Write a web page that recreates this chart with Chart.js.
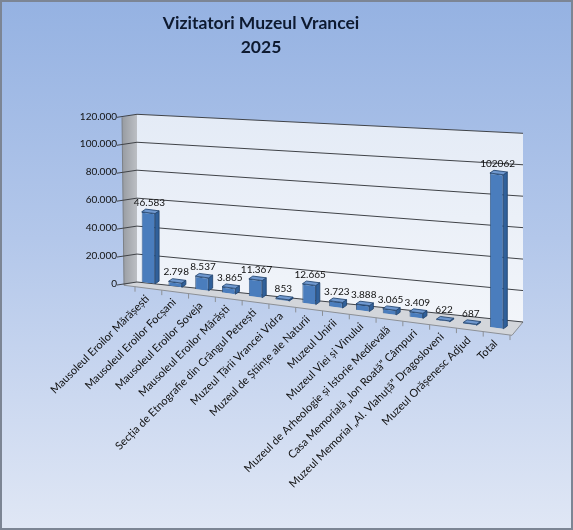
<!DOCTYPE html>
<html lang="ro">
<head>
<meta charset="utf-8">
<title>Vizitatori Muzeul Vrancei 2025</title>
<script src="https://cdn.jsdelivr.net/npm/chart.js@4/dist/chart.umd.min.js"></script>
<style>
  html, body { margin: 0; padding: 0; background: #fff; }
  canvas { display: block; }
</style>
</head>
<body>
<canvas id="visitors-chart" width="573" height="530"></canvas>
<script>
"use strict";

const museums = [
  "Mausoleul Eroilor Mărășești",
  "Mausoleul Eroilor Focșani",
  "Mausoleul Eroilor Soveja",
  "Mausoleul Eroilor Mărăști",
  "Secția de Etnografie din Crângul Petrești",
  "Muzeul Țării Vrancei Vidra",
  "Muzeul de Științe ale Naturii",
  "Muzeul Unirii",
  "Muzeul Viei și Vinului",
  "Muzeul de Arheologie și Istorie Medievală",
  "Casa Memorială „Ion Roată” Câmpuri",
  "Muzeul Memorial „Al. Vlahuță” Dragosloveni",
  "Muzeul Orășenesc Adjud",
  "Total",
];
const visitors = [46583, 2798, 8537, 3865, 11367, 853, 12665, 3723, 3888, 3065, 3409, 622, 687, 102062];
const yTicks = [0, 20000, 40000, 60000, 80000, 100000, 120000];

// dotted thousands, the total is printed plain
const fmt = (v) => String(v).replace(/\B(?=(\d{3})+(?!\d))/g, ".");
const barLabel = (v, i) => (museums[i] === "Total" ? String(v) : fmt(v));

// fake perspective: floor slopes down to the right, bars a bit taller in front
const SLOPE = 0.129;
const STRETCH = 1.08;
const DEPTH = { dx: 4, dy: 3 };

function floorMap(chart) {
  const bars = chart.getDatasetMeta(0).data;
  const base = chart.scales.y.getPixelForValue(0);
  const f = base * (1 - STRETCH) + 1 - SLOPE * bars[0].x;
  return {
    base,
    f,
    pt: (x, y) => [x, SLOPE * x + STRETCH * y + f],
  };
}

function poly(ctx, pts, fill, stroke) {
  ctx.beginPath();
  ctx.moveTo(pts[0][0], pts[0][1]);
  pts.slice(1).forEach((p) => ctx.lineTo(p[0], p[1]));
  ctx.closePath();
  if (fill) { ctx.fillStyle = fill; ctx.fill(); }
  if (stroke) { ctx.strokeStyle = stroke; ctx.stroke(); }
}

const scenery = {
  id: "scenery",
  beforeDraw(chart) {
    const { ctx, chartArea: area, width, height } = chart;
    const y = chart.scales.y;
    const x = chart.scales.x;
    const m = floorMap(chart);

    // page background
    const bg = ctx.createLinearGradient(0, 0, 0, height);
    bg.addColorStop(0, "#95b2e2");
    bg.addColorStop(0.45, "#b3c7ea");
    bg.addColorStop(1, "#e0e7f5");
    ctx.save();
    ctx.fillStyle = bg;
    ctx.fillRect(0, 0, width, height);
    ctx.lineWidth = 2;
    ctx.strokeStyle = "#7c8594";
    ctx.strokeRect(1, 1, width - 2, height - 2);

    const wl = area.left + 2;
    const wr = area.right + 13;
    const y0 = y.getPixelForValue(0);
    const yTop = y.getPixelForValue(y.max);
    const rightY = (py) => py + 40 - 21 * (y0 - py) / (y0 - yTop);
    const frontLeft = m.pt(area.left - 11, m.base + 5);
    const frontRight = m.pt(area.right + 2, m.base + 5);

    // back wall
    const wall = ctx.createLinearGradient(0, yTop, 0, rightY(y0));
    wall.addColorStop(0, "#e4ebf6");
    wall.addColorStop(1, "#f2f5fa");
    poly(ctx, [[wl, yTop], [wr, rightY(yTop)], [wr, rightY(y0)], [wl, y0]], wall);

    // side wall
    const side = ctx.createLinearGradient(wl - 15, 0, wl, 0);
    side.addColorStop(0, "#979ba1");
    side.addColorStop(1, "#bcbfc4");
    poly(ctx, [[wl - 15, yTop + 3], [wl, yTop], [wl, y0], frontLeft], side);

    // floor
    poly(ctx, [[wl, y0], [wr, rightY(y0)], frontRight, frontLeft], "#d3d6db");
    ctx.lineWidth = 1;
    ctx.strokeStyle = "#8c9096";
    ctx.beginPath();
    ctx.moveTo(frontLeft[0], frontLeft[1]);
    ctx.lineTo(frontRight[0], frontRight[1]);
    ctx.lineTo(wr, rightY(y0));
    ctx.stroke();

    // category tick marks under the floor edge
    const step = x.getPixelForValue(1) - x.getPixelForValue(0);
    for (let i = 0; i <= museums.length; i++) {
      const a = m.pt(x.getPixelForValue(i) - step / 2, m.base + 5);
      ctx.beginPath();
      ctx.moveTo(a[0], a[1]);
      ctx.lineTo(a[0], a[1] + 5);
      ctx.stroke();
    }

    // value axis edge
    ctx.strokeStyle = "#7d8187";
    ctx.beginPath();
    ctx.moveTo(wl - 15, yTop + 3);
    ctx.lineTo(frontLeft[0], frontLeft[1]);
    ctx.stroke();

    // grid lines across side and back wall
    ctx.strokeStyle = "#404348";
    y.ticks.forEach((t) => {
      const py = y.getPixelForValue(t.value);
      ctx.beginPath();
      ctx.moveTo(wl - 20, py + 3);
      ctx.lineTo(wl, py);
      ctx.lineTo(wr, rightY(py));
      ctx.stroke();
    });
    ctx.restore();
  },
  beforeDatasetsDraw(chart) {
    const m = floorMap(chart);
    chart.ctx.save();
    chart.ctx.transform(1, SLOPE, 0, STRETCH, 0, m.f);
  },
  afterDatasetsDraw(chart) {
    const ctx = chart.ctx;
    const bars = chart.getDatasetMeta(0).data;

    // side and top faces, still in the skewed space
    bars.forEach((bar) => {
      const l = bar.x - bar.width / 2;
      const r = bar.x + bar.width / 2;
      const { dx, dy } = DEPTH;
      ctx.lineWidth = 0.8;
      poly(ctx, [[r, bar.y], [r + dx, bar.y - dy], [r + dx, bar.base - dy], [r, bar.base]], "#30609a", "#22446e");
      poly(ctx, [[l, bar.y], [l + dx, bar.y - dy], [r + dx, bar.y - dy], [r, bar.y]], "#6f98cf", "#22446e");
    });
    ctx.restore();

    // value labels
    const m = floorMap(chart);
    ctx.save();
    ctx.font = "10px Lato";
    ctx.fillStyle = "#111";
    ctx.textAlign = "center";
    ctx.textBaseline = "bottom";
    bars.forEach((bar, i) => {
      const top = m.pt(bar.x, bar.y);
      ctx.fillText(barLabel(visitors[i], i), bar.x + 1, top[1] - DEPTH.dy - 2);
    });
    ctx.restore();
  },
  afterDraw(chart) {
    const ctx = chart.ctx;
    const bars = chart.getDatasetMeta(0).data;
    const m = floorMap(chart);
    ctx.save();
    ctx.font = "11px Lato";
    ctx.fillStyle = "#111";
    ctx.textAlign = "right";
    ctx.textBaseline = "middle";
    bars.forEach((bar, i) => {
      const p = m.pt(bar.x - 1, m.base + 13);
      ctx.save();
      ctx.translate(p[0], p[1]);
      ctx.rotate(-Math.PI / 4);
      ctx.fillText(museums[i], 0, 0);
      ctx.restore();
    });
    ctx.restore();
  },
};

new Chart(document.getElementById("visitors-chart"), {
  type: "bar",
  data: {
    labels: museums,
    datasets: [
      {
        label: "Vizitatori",
        data: visitors,
        backgroundColor: "#4a7dbd",
        borderColor: "#22446e",
        borderWidth: 0.8,
        categoryPercentage: 1,
        barPercentage: 0.5,
        clip: false,
      },
    ],
  },
  options: {
    responsive: false,
    animation: false,
    layout: { padding: { top: 0, left: 12, right: 63, bottom: 248 } },
    plugins: {
      legend: { display: false },
      tooltip: { enabled: false },
      title: {
        display: true,
        text: ["Vizitatori Muzeul Vrancei", "2025"],
        color: "#0e1a30",
        font: { family: "Lato", size: 17.5, weight: "bold", lineHeight: 1.38 },
        padding: { top: 11.5, bottom: 54.5 },
      },
    },
    scales: {
      x: {
        grid: { display: false },
        border: { display: false },
        ticks: { display: false },
        afterFit: (s) => { s.height = 0; },
      },
      y: {
        min: 0,
        max: yTicks[yTicks.length - 1],
        grid: { display: false },
        border: { display: false },
        afterFit: (s) => { s.width = 123; },
        afterBuildTicks: (s) => { s.ticks = yTicks.map((v) => ({ value: v })); },
        ticks: {
          padding: 10,
          labelOffset: 2,
          color: "#111",
          font: { family: "Lato", size: 10 },
          callback: (v) => fmt(v),
        },
      },
    },
  },
  plugins: [scenery],
});
</script>
</body>
</html>
